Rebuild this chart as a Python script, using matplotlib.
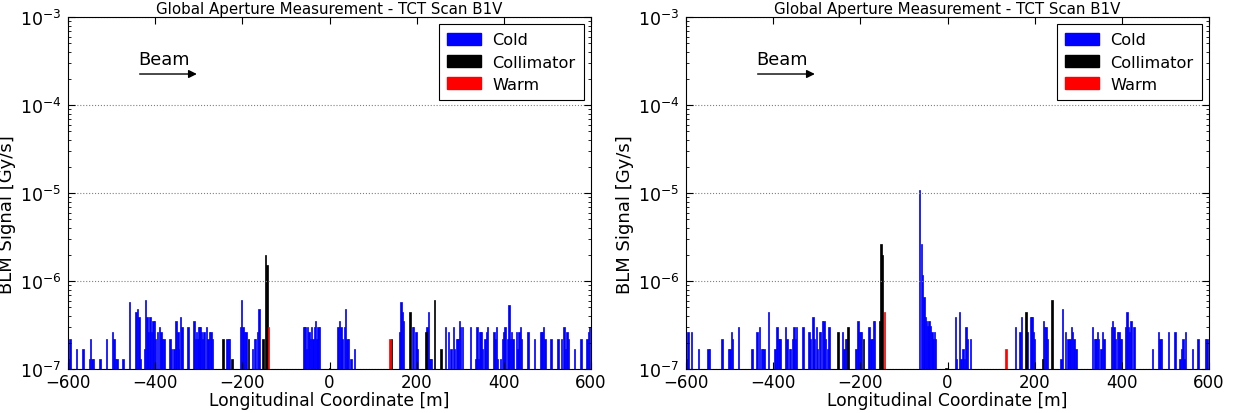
import matplotlib
matplotlib.use("Agg")
import matplotlib.pyplot as plt
from matplotlib.patches import Patch

# left panel (first scan): positions [m] and BLM signal [1e-7 Gy/s]
cold1_s = [-598, -595, -580, -565, -551, -548, -545, -542, -527, -512, -498, -495, -491, -488,
           -474, -459, -444, -440, -437, -434, -425, -422, -419, -417, -412, -408, -405, -401,
           -399, -395, -390, -387, -384, -380, -366, -362, -357, -352, -348, -346, -342, -339,
           -325, -311, -308, -305, -302, -300, -297, -294, -291, -288, -282, -279, -275, -272,
           -268, -235, -232, -229, -204, -202, -199, -195, -192, -177, -172, -170, -165, -162,
           -59, -56, -53, -50, -47, -44, -41, -38, -34, -32, -29, -26, -23,
           20, 23, 26, 29, 34, 37, 40, 44, 49, 57,
           162, 164, 167, 170, 190, 193, 198, 201, 224, 227, 230, 233,
           266, 273, 279, 284, 287, 292, 295, 298, 301, 305, 323, 336, 339, 342, 345, 348, 351,
           357, 360, 363, 377, 380, 383, 386, 392, 397, 400, 403, 409, 412, 415, 418, 421,
           429, 432, 435, 438, 441, 455, 470, 485, 488, 491, 494, 508, 524, 532, 538, 541, 545,
           548, 562, 577, 591, 594, 597]
cold1_v = [1.3, 2.2, 1.7, 1.7, 1.3, 2.2, 1.3, 1.3, 1.3, 2.2, 2.6, 2.2, 1.3, 1.3,
           1.3, 5.7, 4.4, 4.8, 3.9, 1.3, 1.7, 6.1, 3.9, 2.6, 3.9, 2.6, 3.5, 3.5,
           2.2, 2.6, 3.0, 2.6, 2.2, 2.2, 2.2, 1.7, 1.7, 3.5, 2.6, 1.7, 3.9, 3.0,
           3.0, 3.5, 2.2, 2.6, 2.2, 3.0, 3.0, 2.6, 2.2, 2.6, 3.0, 2.2, 2.6, 2.6,
           2.2, 2.2, 2.2, 2.2, 3.0, 6.1, 3.0, 2.6, 2.6, 1.7, 2.2, 2.2, 2.6, 4.8,
           3.0, 3.0, 1.7, 3.0, 2.6, 2.2, 3.0, 2.2, 3.0, 3.5, 2.2, 3.0, 3.0,
           3.0, 3.5, 3.0, 2.2, 3.0, 4.8, 2.2, 2.2, 1.3, 1.7,
           2.6, 5.7, 4.4, 3.5, 3.0, 3.0, 2.6, 1.7, 3.0, 4.4, 1.3, 1.3,
           3.0, 2.6, 1.7, 3.0, 1.7, 2.2, 2.2, 3.5, 3.0, 3.0, 3.0, 1.3, 3.0, 1.3, 2.6, 2.6, 1.7,
           2.2, 2.6, 3.0, 2.6, 2.2, 3.0, 1.3, 1.3, 2.2, 2.6, 3.0, 2.2, 5.3, 2.2, 2.6, 2.2,
           2.6, 1.7, 2.6, 3.0, 2.2, 2.6, 2.2, 2.6, 2.6, 3.0, 2.2, 2.2, 2.2, 2.2, 3.0, 1.7, 2.6,
           2.2, 1.7, 2.2, 2.2, 2.6, 3.0]
coll1_s = [-244, -224, -186, -152, -147, -144, 0, 142, 185, 221, 241, 256]
coll1_v = [2.2, 1.3, 2.2, 2.2, 19.7, 15.2, 1.03, 2.2, 4.4, 2.6, 6.1, 1.7]
warm1_s = [-140, 139]
warm1_v = [3.0, 2.2]

# right panel (second scan)
cold2_s = [-598, -595, -587, -571, -549, -546, -517, -502, -499, -496, -493, -479, -448,
           -437, -431, -427, -424, -421, -411, -396, -391, -387, -384, -372, -368, -363, -360,
           -354, -352, -349, -346, -331, -318, -315, -309, -306, -301, -298, -294, -291, -287,
           -283, -280, -275, -272, -241, -238, -234, -231, -210, -205, -202, -200, -197, -180,
           -175, -172, -170, -167,
           -64, -60, -57, -54, -51, -48, -45, -42, -39, -36, -33, -30, -27,
           18, 21, 27, 31, 36, 39, 42, 46, 53,
           156, 166, 170, 183, 191, 194, 197, 200, 220, 223, 226, 229,
           260, 264, 271, 277, 281, 284, 287, 290, 295, 333, 338, 341, 344, 347, 352, 356, 359,
           376, 379, 382, 385, 390, 393, 396, 399, 408, 412, 415, 418, 421, 428,
           470, 484, 488, 491, 507, 522, 534, 537, 540, 543, 546, 562, 575, 592, 595]
cold2_v = [1.3, 2.6, 2.6, 1.7, 1.7, 1.7, 2.2, 1.7, 1.7, 2.6, 2.2, 3.0, 1.7,
           2.6, 3.0, 1.7, 1.7, 1.7, 4.4, 1.7, 3.0, 2.2, 2.2, 3.0, 2.2, 1.7, 1.7,
           2.2, 3.0, 2.2, 3.0, 3.0, 2.6, 2.2, 3.9, 2.2, 3.0, 1.7, 2.6, 2.6, 3.5,
           3.5, 2.2, 1.7, 3.0, 2.6, 1.7, 2.2, 2.2, 1.7, 3.5, 2.6, 2.6, 2.6, 3.0,
           2.2, 2.2, 3.5, 3.5,
           109, 26.1, 11.7, 6.6, 3.87, 3.5, 3.1, 3.5, 3.1, 2.6, 2.2, 2.6, 2.2,
           3.9, 1.3, 4.4, 1.3, 1.7, 1.3, 3.0, 2.2, 2.2,
           3.0, 2.6, 3.9, 2.6, 3.9, 3.9, 2.6, 2.2, 3.5, 3.0, 3.0, 2.2,
           1.3, 4.8, 2.6, 2.2, 2.2, 3.0, 2.6, 2.2, 1.7, 3.0, 2.2, 2.2, 2.6, 2.2, 1.7, 2.6, 2.2,
           3.0, 3.5, 3.0, 2.2, 2.6, 2.6, 2.2, 2.2, 3.0, 4.4, 3.0, 2.6, 3.5, 3.0,
           1.7, 2.6, 2.2, 2.2, 2.6, 2.6, 1.3, 1.7, 2.2, 1.3, 2.6, 1.7, 2.2, 2.2, 2.2]
coll2_s = [-251, -228, -193, -156, -153, -150, -3, 180, 218, 240]
coll2_v = [2.6, 3.0, 2.2, 3.5, 26.5, 19.7, 1.03, 4.4, 1.3, 6.1]
warm2_s = [-145, 134]
warm2_v = [4.4, 1.7]

panels = [
    (cold1_s, cold1_v, coll1_s, coll1_v, warm1_s, warm1_v),
    (cold2_s, cold2_v, coll2_s, coll2_v, warm2_s, warm2_v),
]

plt.rcParams['font.family'] = ['DejaVu Sans']
plt.rcParams['mathtext.default'] = 'regular'
fig = plt.figure(figsize=(12.41, 4.14), dpi=100)
lefts = [68 / 1241, 686 / 1241]
width = 523 / 1241

for i, (cs, cv, ks, kv, ws, wv) in enumerate(panels):
    ax = fig.add_axes([lefts[i], 44 / 414, width, 352 / 414])
    for s, v, col in [(cs, cv, 'blue'), (ks, kv, 'black'), (ws, wv, 'red')]:
        ax.bar(s, [x * 1e-7 - 1e-8 for x in v], bottom=1e-8, width=3.5,
               color=col, edgecolor=col, linewidth=0.5, align='center')
    ax.set_yscale('log')
    ax.set_ylim(1e-7, 1e-3)
    ax.set_xlim(-600, 600)
    ax.set_xticks([-600, -400, -200, 0, 200, 400, 600])
    ax.yaxis.grid(True, which='major', linestyle=':', color='gray', linewidth=0.8)
    ax.tick_params(direction='in', length=5, top=True, right=True)
    ax.tick_params(axis='x', labelsize=12, pad=3)
    ax.tick_params(axis='y', labelsize=12.5, pad=5)
    ax.tick_params(which='minor', direction='in', length=2.5, right=True)
    ax.set_xlabel('Longitudinal Coordinate [m]', fontsize=12.3, labelpad=0)
    ax.set_ylabel('BLM Signal [Gy/s]', fontsize=13)
    ax.yaxis.set_label_coords(-0.1, 0.44)
    ax.set_title('Global Aperture Measurement - TCT Scan B1V', fontsize=10.8, pad=3)
    ax.annotate('', xy=(-298, 2.25e-4), xytext=(-442, 2.25e-4),
                arrowprops=dict(arrowstyle='-|>', color='black', lw=1, mutation_scale=12))
    ax.text(-438, 3.3e-4, 'Beam', fontsize=12.8, va='center', ha='left')
    handles = [Patch(color='blue', label='Cold'), Patch(color='black', label='Collimator'),
               Patch(color='red', label='Warm')]
    leg = ax.legend(handles=handles, loc='upper right', fontsize=11.6, fancybox=False,
                    framealpha=1, edgecolor='black', handlelength=2.1, handleheight=0.75,
                    handletextpad=0.7, borderpad=0.5, borderaxespad=0.45, labelspacing=0.45)
    leg.get_frame().set_linewidth(0.8)

fig.savefig('out.png', dpi=100)
